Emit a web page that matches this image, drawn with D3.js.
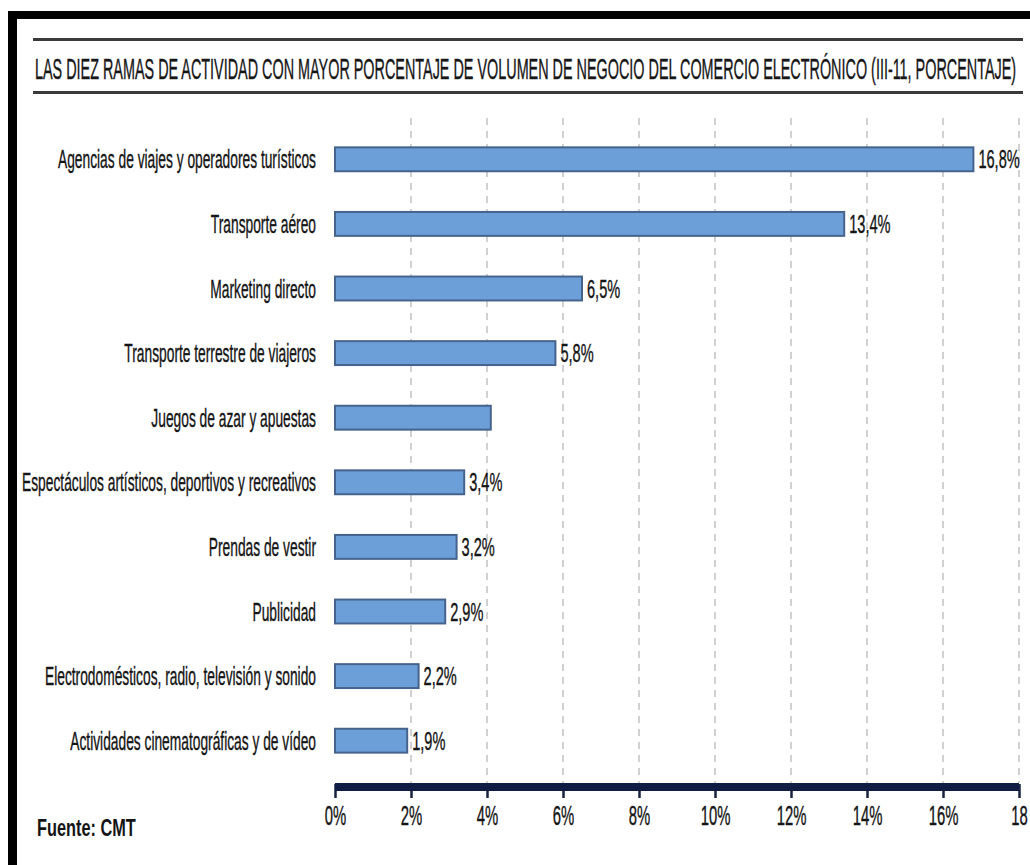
<!DOCTYPE html>
<html>
<head>
<meta charset="utf-8">
<script src="https://cdn.jsdelivr.net/npm/d3@7"></script>
<style>
  html, body { margin: 0; padding: 0; background: #fff; }
  svg { display: block; }
  text { font-family: "Liberation Sans", Arial, sans-serif; fill: #151515; }
</style>
</head>
<body>
<svg id="chart" width="1030" height="865"></svg>
<script>
// Ramas de actividad ordered from largest to smallest share
const categories = [
  "Agencias de viajes y operadores turísticos",
  "Transporte aéreo",
  "Marketing directo",
  "Transporte terrestre de viajeros",
  "Juegos de azar y apuestas",
  "Espectáculos artísticos, deportivos y recreativos",
  "Prendas de vestir",
  "Publicidad",
  "Electrodomésticos, radio, televisión y sonido",
  "Actividades cinematográficas y de vídeo"
];
// Share of e-commerce business volume (%)
const values = [16.8, 13.4, 6.5, 5.8, 4.1, 3.4, 3.2, 2.9, 2.2, 1.9];
// Printed value labels (the gaming bar carries none)
const valueLabels = ["16,8%", "13,4%", "6,5%", "5,8%", null, "3,4%", "3,2%", "2,9%", "2,2%", "1,9%"];
const tickValues = [0, 2, 4, 6, 8, 10, 12, 14, 16, 18];
const tickLabels = ["0%", "2%", "4%", "6%", "8%", "10%", "12%", "14%", "16%", "18"];

const title = "LAS DIEZ RAMAS DE ACTIVIDAD CON MAYOR PORCENTAJE DE VOLUMEN DE NEGOCIO DEL COMERCIO ELECTRÓNICO (III-11, PORCENTAJE)";
const source = "Fuente: CMT";

const svg = d3.select("#chart");

// Frame: heavy black band along top and left edges
svg.append("rect").attr("x", 0).attr("y", 0).attr("width", 1030).attr("height", 865).attr("fill", "#fff");
svg.append("rect").attr("x", 8).attr("y", 11).attr("width", 1022).attr("height", 8).attr("fill", "#000");
svg.append("rect").attr("x", 8).attr("y", 11).attr("width", 9).attr("height", 854).attr("fill", "#000");

// Title between two rules, condensed to span the rule width
svg.append("rect").attr("x", 33).attr("y", 38).attr("width", 990).attr("height", 3).attr("fill", "#3a3a3a");
svg.append("rect").attr("x", 33).attr("y", 91).attr("width", 990).attr("height", 3).attr("fill", "#3a3a3a");
const titleG = svg.append("g");
const titleText = titleG.append("text")
  .attr("font-size", 29)
  .attr("fill", "#222")
  .attr("stroke", "#222")
  .attr("stroke-width", 0.4)
  .text(title);
const titleW = titleText.node().getComputedTextLength();
titleG.attr("transform", `translate(35,79) scale(${982 / titleW},1)`);

// Scales
const x = d3.scaleLinear().domain([0, 18]).range([335, 1019]);
const y = d3.scaleBand()
  .domain(categories)
  .range([127, 773])
  .paddingInner(0.63)
  .paddingOuter(0.315);

// Dashed vertical gridlines
svg.append("g")
  .selectAll("line")
  .data(tickValues.filter(d => d > 0))
  .join("line")
  .attr("x1", d => x(d)).attr("x2", d => x(d))
  .attr("y1", 118).attr("y2", 783)
  .attr("stroke", "#b8b8b8")
  .attr("stroke-width", 1.3)
  .attr("stroke-dasharray", "7,6");

// Bars
svg.append("g")
  .selectAll("rect")
  .data(values)
  .join("rect")
  .attr("x", x(0))
  .attr("y", (d, i) => y(categories[i]))
  .attr("width", d => x(d) - x(0))
  .attr("height", y.bandwidth())
  .attr("fill", "#6c9fd8")
  .attr("stroke", "#45638c")
  .attr("stroke-width", 2);

// Category labels (condensed)
const catScale = 0.53;
svg.append("g")
  .selectAll("g")
  .data(categories)
  .join("g")
  .attr("transform", d => `translate(316,${y(d) + y.bandwidth() / 2 + 9}) scale(${catScale},1)`)
  .append("text")
  .attr("text-anchor", "end")
  .attr("font-size", 26)
  .attr("stroke", "#151515")
  .attr("stroke-width", 0.4)
  .text(d => d);

// Value labels
const valScale = 0.56;
svg.append("g")
  .selectAll("g")
  .data(values.map((v, i) => ({ v, label: valueLabels[i], cat: categories[i] })).filter(d => d.label))
  .join("g")
  .attr("transform", d => `translate(${x(d.v) + 5},${y(d.cat) + y.bandwidth() / 2 + 9}) scale(${valScale},1)`)
  .append("text")
  .attr("font-size", 26)
  .attr("stroke", "#151515")
  .attr("stroke-width", 0.4)
  .text(d => d.label);

// Bottom axis: heavy navy baseline with tick marks
const axis = d3.axisBottom(x)
  .tickValues(tickValues)
  .tickSize(14)
  .tickFormat((d, i) => tickLabels[i]);

const axisG = svg.append("g")
  .attr("transform", "translate(0,784)")
  .call(axis);
axisG.select(".domain").remove();
axisG.selectAll(".tick line").attr("stroke", "#1a2440").attr("stroke-width", 2.5);
axisG.selectAll(".tick text")
  .attr("font-size", 27)
  .attr("font-family", "\"Liberation Sans\", Arial, sans-serif")
  .attr("fill", "#151515")
  .attr("stroke", "#151515")
  .attr("stroke-width", 0.4)
  .attr("dy", 0)
  .attr("y", 41)
  .attr("transform", "scale(0.55,1)");

svg.append("rect")
  .attr("x", x(0)).attr("y", 783)
  .attr("width", x(18) - x(0)).attr("height", 8)
  .attr("fill", "#0f1d44");

// Source note
svg.append("g")
  .attr("transform", "translate(37,836) scale(0.68,1)")
  .append("text")
  .attr("font-size", 24)
  .attr("font-weight", "bold")
  .text(source);
</script>
</body>
</html>
